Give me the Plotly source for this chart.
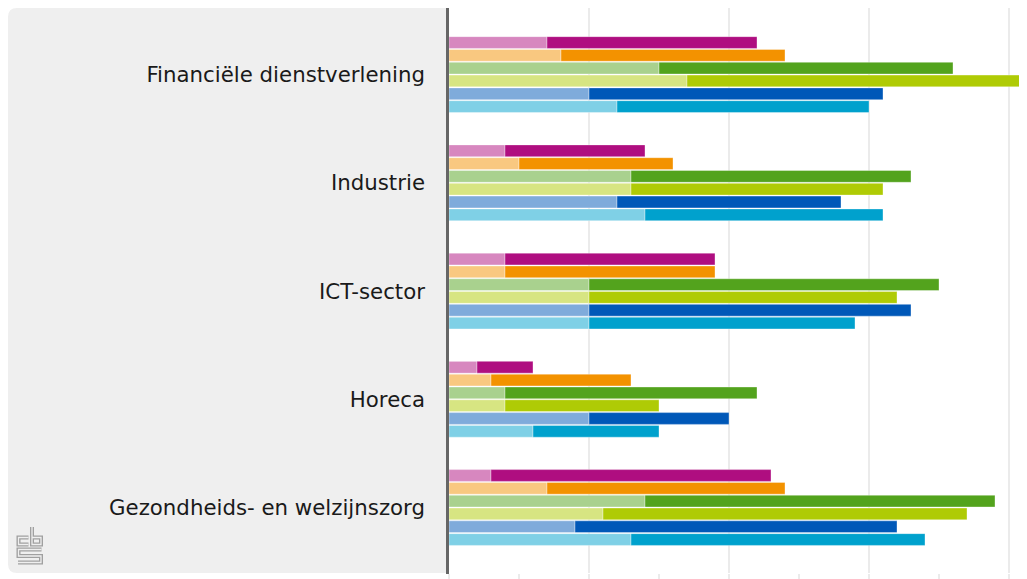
import plotly.graph_objects as go

categories = ["Financiële dienstverlening", "Industrie", "ICT-sector", "Horeca",
              "Gezondheids- en welzijnszorg"]

series_names = ["Reeks 1", "Reeks 2", "Reeks 3", "Reeks 4", "Reeks 5", "Reeks 6"]

# light (first) part of each bar
light_1 = [7, 4, 4, 2, 3]
light_2 = [8, 5, 4, 3, 7]
light_3 = [15, 13, 10, 4, 14]
light_4 = [17, 13, 10, 4, 11]
light_5 = [10, 12, 10, 10, 9]
light_6 = [12, 14, 10, 6, 13]

# total length of each bar
total_1 = [22, 14, 19, 6, 23]
total_2 = [24, 16, 19, 13, 24]
total_3 = [36, 33, 35, 22, 39]
total_4 = [41, 31, 32, 15, 37]
total_5 = [31, 28, 33, 20, 32]
total_6 = [30, 31, 29, 15, 34]

lights = [light_1, light_2, light_3, light_4, light_5, light_6]
totals = [total_1, total_2, total_3, total_4, total_5, total_6]

dark_colors = ["#AF0E80", "#F39200", "#53A31D", "#AFCB05", "#0058B8", "#00A1CD"]
light_colors = ["#D787BF", "#F9C880", "#A9D18E", "#D7E582", "#7FABDB", "#7FD0E6"]

fig = go.Figure()
for i in range(6):
    fig.add_trace(go.Bar(
        y=categories, x=lights[i], orientation="h", offsetgroup=str(i),
        marker=dict(color=light_colors[i], line=dict(color="rgba(255,255,255,0.35)", width=1)),
        name=series_names[i], showlegend=False, hoverinfo="x+y"))
    fig.add_trace(go.Bar(
        y=categories, x=[t - l for t, l in zip(totals[i], lights[i])], base=lights[i],
        orientation="h", offsetgroup=str(i),
        marker=dict(color=dark_colors[i], line=dict(color="rgba(255,255,255,0.35)", width=1)),
        name=series_names[i], showlegend=False, hoverinfo="x+y"))

# page body adds an 8px margin; figure coordinates are page coordinates - 8
W, H = 1019, 571
L, R, T, B = 441, 0, 0, 6
PW, PH = W - L - R, H - T - B


def px(x):
    return (x - 8 - L) / PW


def py(y):
    return (H - B - (y - 8)) / PH


# grey label panel with rounded left corners
x0, x1, y0, y1 = px(8), px(446), py(573), py(8)
rx, ry = 9 / PW, 9 / PH
panel = (f"M {x1} {y0} L {x0 + rx} {y0} Q {x0} {y0} {x0} {y0 + ry} "
         f"L {x0} {y1 - ry} Q {x0} {y1} {x0 + rx} {y1} L {x1} {y1} Z")
shapes = [dict(type="path", xref="paper", yref="paper", path=panel,
               fillcolor="#EFEFEF", line=dict(width=0), layer="below")]

# small logo in the panel corner
logo_paths = [
    [(28.5, 537.5), (18.5, 537.5), (18.5, 544.5), (28.5, 544.5)],
    [(32, 527), (32, 544.5), (41, 544.5), (41, 537.5), (32, 537.5)],
    [(41.5, 549.5), (18.5, 549.5), (18.5, 556), (41, 556), (41, 562.5), (18, 562.5)],
]
for pts in logo_paths:
    d = "M " + " L ".join(f"{px(a)} {py(b)}" for a, b in pts)
    shapes.append(dict(type="path", xref="paper", yref="paper", path=d,
                       line=dict(color="#A0A0A0", width=4), layer="above"))
    shapes.append(dict(type="path", xref="paper", yref="paper", path=d,
                       line=dict(color="#EFEFEF", width=1.3), layer="above"))

# dark vertical axis line
shapes.append(dict(type="line", xref="paper", yref="paper",
                   x0=px(447.5), x1=px(447.5), y0=py(574), y1=py(7),
                   line=dict(color="#666666", width=3), layer="above"))

fig.update_layout(
    width=W, height=H,
    margin=dict(l=L, r=R, t=T, b=B, pad=0),
    paper_bgcolor="white", plot_bgcolor="white",
    barmode="group", bargap=0.29, bargroupgap=0.08,
    font=dict(family="DejaVu Sans", color="#1A1A1A"),
    shapes=shapes,
    xaxis=dict(range=[0, PW / 14], dtick=10, tick0=0, showgrid=True,
               gridcolor="#EBEBEB", gridwidth=2, zeroline=False,
               showticklabels=False, ticks="outside", ticklen=6,
               tickcolor="#EBEBEB", tickwidth=2,
               minor=dict(dtick=5, ticks="outside", ticklen=6,
                          tickcolor="#EBEBEB", tickwidth=2, showgrid=False),
               fixedrange=True),
    yaxis=dict(autorange=False, range=[4.605, -0.615], showgrid=False,
               zeroline=False, ticks="", ticklabelstandoff=23,
               tickfont=dict(size=21.3, family="DejaVu Sans", color="#1A1A1A"),
               fixedrange=True),
)

fig.write_html("out.html")
